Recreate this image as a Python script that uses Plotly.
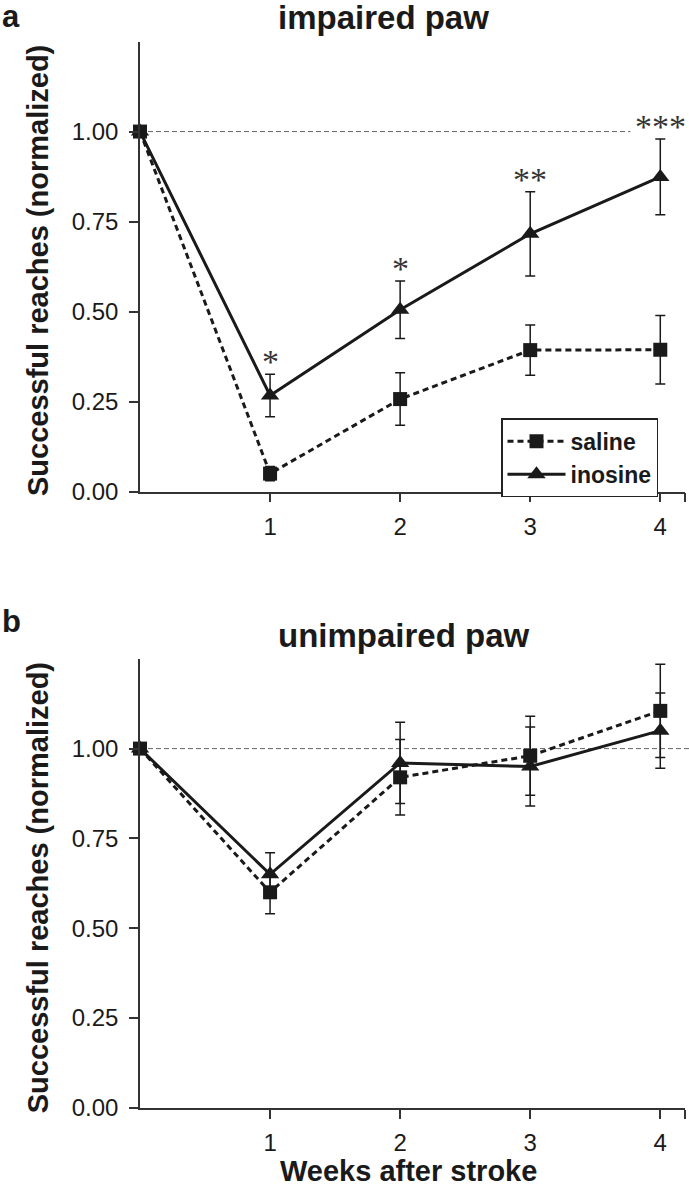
import plotly.graph_objects as go

# ---------------- data ----------------
weeks = [0, 1, 2, 3, 4]
x_ticks = [1, 2, 3, 4]
x_tick_labels = ["1", "2", "3", "4"]
y_ticks = [0.0, 0.25, 0.5, 0.75, 1.0]
y_tick_labels = ["0.00", "0.25", "0.50", "0.75", "1.00"]

# panel a: impaired paw
imp_saline = [1.00, 0.05, 0.257, 0.393, 0.394]
imp_saline_err = [0.0, 0.02, 0.073, 0.07, 0.095]
imp_inosine = [1.00, 0.267, 0.505, 0.716, 0.874]
imp_inosine_err = [0.0, 0.059, 0.08, 0.117, 0.105]
sig_labels = ["", "*", "*", "**", "***"]

# panel b: unimpaired paw
unimp_saline = [1.00, 0.60, 0.92, 0.98, 1.105]
unimp_saline_err = [0.0, 0.06, 0.105, 0.11, 0.13]
unimp_inosine = [1.00, 0.65, 0.96, 0.95, 1.05]
unimp_inosine_err = [0.0, 0.06, 0.113, 0.11, 0.105]

series_names = ["saline", "inosine"]
panel_titles = ["impaired paw", "unimpaired paw"]
panel_letters = ["a", "b"]
y_title = "Successful reaches (normalized)"
x_title = "Weeks after stroke"

# ---------------- styling ----------------
W, H = 689, 1199
FONT = "Liberation Sans, Arial, Helvetica, sans-serif"
INK = "#1a1a1a"

def px_x(p):
    return p / W

def px_y(p):
    return 1 - p / H

x_dom = [px_x(140), px_x(685)]
top_dom = [px_y(497), px_y(42)]
bot_dom = [px_y(1120), px_y(666)]
x_range = [0, 4.19]
y_range = [0, 1.25]

fig = go.Figure()

def add_panel(xa, ya, saline, saline_err, inosine, inosine_err, show_legend):
    fig.add_trace(go.Scatter(
        x=weeks, y=inosine, name=series_names[1], xaxis=xa, yaxis=ya,
        mode="lines+markers", cliponaxis=False,
        line=dict(color=INK, width=3),
        marker=dict(symbol="triangle-up", size=16, color=INK),
        error_y=dict(type="data", array=inosine_err, visible=True,
                     color=INK, thickness=1.5, width=5),
        showlegend=show_legend, legendgroup="ino", legendrank=2,
    ))
    fig.add_trace(go.Scatter(
        x=weeks, y=saline, name=series_names[0], xaxis=xa, yaxis=ya,
        mode="lines+markers", cliponaxis=False,
        line=dict(color=INK, width=3, dash="6px,4px"),
        marker=dict(symbol="square", size=14, color=INK),
        error_y=dict(type="data", array=saline_err, visible=True,
                     color=INK, thickness=1.5, width=5),
        showlegend=show_legend, legendgroup="sal", legendrank=1,
    ))

add_panel("x", "y", imp_saline, imp_saline_err, imp_inosine, imp_inosine_err, True)
add_panel("x2", "y2", unimp_saline, unimp_saline_err, unimp_inosine, unimp_inosine_err, False)

axis_common = dict(
    showline=True, linecolor="#333", linewidth=1.5,
    ticks="outside", ticklen=9, tickwidth=1.5, tickcolor="#333",
    showgrid=False, zeroline=False,
    tickfont=dict(family=FONT, size=24, color=INK),
)

fig.update_layout(
    width=W, height=H, autosize=False,
    margin=dict(l=0, r=0, t=0, b=0),
    paper_bgcolor="white", plot_bgcolor="white",
    xaxis=dict(domain=x_dom, anchor="y", range=x_range,
               tickvals=x_ticks + [x_range[1]], ticktext=x_tick_labels + [""],
               ticklabelstandoff=4, **axis_common),
    yaxis=dict(domain=top_dom, anchor="x", range=y_range,
               tickvals=y_ticks, ticktext=y_tick_labels,
               ticklabelstandoff=6, **axis_common),
    xaxis2=dict(domain=x_dom, anchor="y2", range=x_range,
                tickvals=x_ticks + [x_range[1]], ticktext=x_tick_labels + [""],
                ticklabelstandoff=4, **axis_common),
    yaxis2=dict(domain=bot_dom, anchor="x2", range=y_range,
                tickvals=y_ticks, ticktext=y_tick_labels,
                ticklabelstandoff=6, **axis_common),
    legend=dict(
        x=px_x(501), y=px_y(423), xanchor="left", yanchor="top",
        bordercolor="#222", borderwidth=1.5, bgcolor="white",
        font=dict(family=FONT, size=23, color=INK, weight="bold"),
        itemwidth=58, tracegroupgap=2, traceorder="normal",
    ),
    showlegend=True,
)

# reference lines at 1.00
fig.add_shape(type="line", xref="x", yref="y", x0=0, x1=3.77, y0=1, y1=1,
              line=dict(color="#666", width=1, dash="5px,3px"), layer="below")
fig.add_shape(type="line", xref="paper", yref="y2", x0=x_dom[0], x1=1.0, y0=1, y1=1,
              line=dict(color="#666", width=1, dash="5px,3px"), layer="below")

# significance asterisks
for w, m, e, s in zip(weeks, imp_inosine, imp_inosine_err, sig_labels):
    if s:
        fig.add_annotation(x=w, y=m + e + 0.035, xref="x", yref="y", text=s,
                           showarrow=False, yanchor="middle", xanchor="center",
                           font=dict(family="Liberation Serif, Times New Roman, serif",
                                     size=34, color="#333"))

# titles
bold = dict(family=FONT, color=INK, weight="bold")
title_y = [18, 642]
for t, ty in zip(panel_titles, title_y):
    fig.add_annotation(x=px_x(276), y=px_y(ty), xref="paper", yref="paper", text=t,
                       showarrow=False, xanchor="left", yanchor="middle",
                       font=dict(size=33, **bold))
letter_y = [17, 628]
for t, ty in zip(panel_letters, letter_y):
    fig.add_annotation(x=0, y=px_y(ty), xref="paper", yref="paper", text=t,
                       showarrow=False, xanchor="left", yanchor="middle",
                       font=dict(size=31, **bold))
ytitle_y = [274, 898]
for ty in ytitle_y:
    fig.add_annotation(x=px_x(38), y=px_y(ty), xref="paper", yref="paper", text=y_title,
                       showarrow=False, xanchor="center", yanchor="middle", textangle=-90,
                       font=dict(size=29, **bold))
fig.add_annotation(x=px_x(408), y=px_y(1184), xref="paper", yref="paper", text=x_title,
                   showarrow=False, xanchor="center", yanchor="middle",
                   font=dict(size=29, **bold))

page_fix = (
    "document.documentElement.style.margin='0px';"
    "document.body.style.margin='0px';"
    "document.body.style.overflow='hidden';"
    "var gd=document.querySelector('.plotly-graph-div');"
    "gd.style.position='fixed';gd.style.top='0px';gd.style.left='0px';"
)
fig.write_html("out.html", config={"displayModeBar": False}, post_script=page_fix)
